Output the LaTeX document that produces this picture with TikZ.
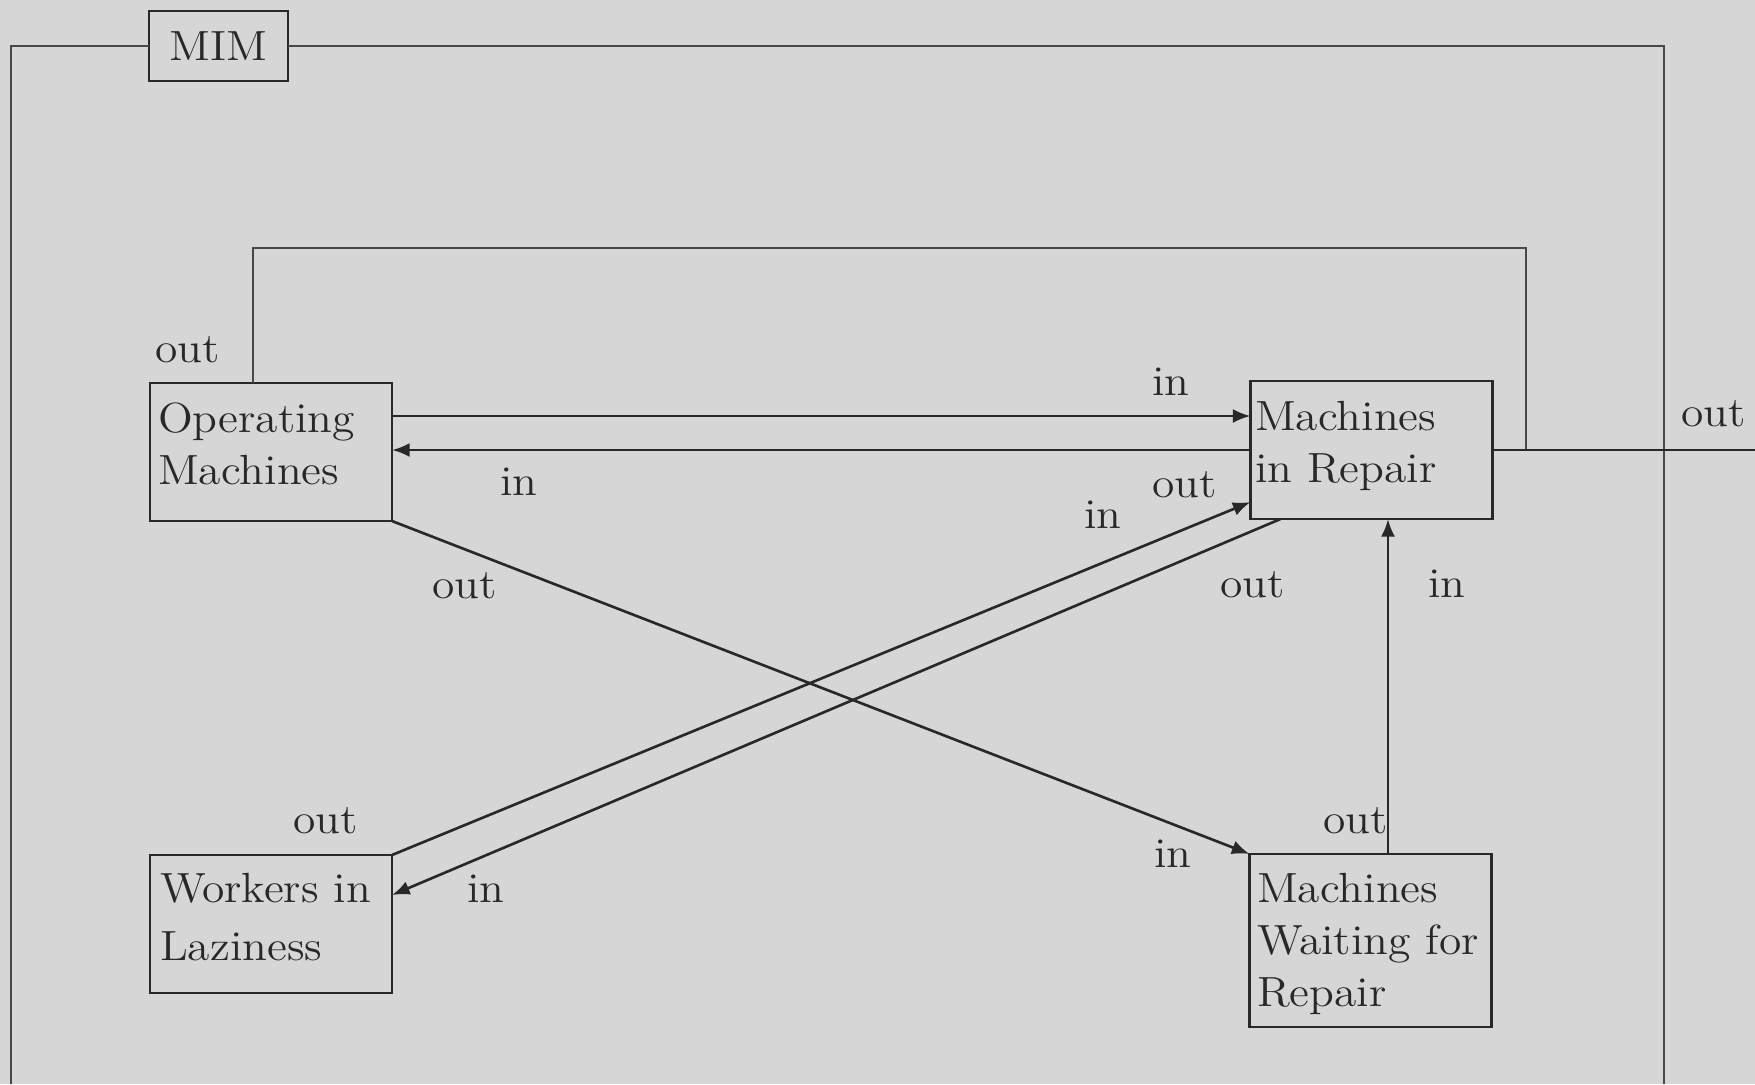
\documentclass[tikz,border=0pt]{standalone}
\usepackage{fontspec}
\setmainfont{Latin Modern Roman}[FakeStretch=1.08]
\usetikzlibrary{arrows.meta,calc}
\definecolor{bg}{RGB}{214,214,214}
\definecolor{ink}{RGB}{40,40,40}
\tikzset{
  box/.style={draw=ink, line width=0.8pt, minimum width=2.42cm, minimum height=1.38cm, inner sep=0pt, outer sep=0pt},
  txt/.style={anchor=base west, inner sep=0pt, outer sep=0pt, text=ink, font=\fontsize{12}{14.8}\selectfont},
  lbl/.style={txt},
  arr/.style={draw=ink, line width=0.75pt, -{Latex[length=5pt,width=4pt]}},
  thinline/.style={draw=ink!85, line width=0.5pt},
  midline/.style={draw=ink, line width=0.6pt},
}
\begin{document}
\begin{tikzpicture}[x=0.01cm,y=-0.01cm]
\fill[bg] (0,0) rectangle (1755,1084);
\useasboundingbox (0,0) rectangle (1755,1084);

% boxes
\node[box, minimum width=1.39cm, minimum height=0.70cm, text=ink, font=\fontsize{12}{14.8}\selectfont] (mim) at (218.5,46) {MIM};
\node[box] (om) at (271,452) {};
\node[box] (mir) at (1371.5,450) {};
\node[box] (wl) at (271,924) {};
\node[box, minimum height=1.73cm] (mwr) at (1370.5,940.5) {};

% box texts
\node[txt] (omt) at (158,432) {\begin{tabular}[t]{@{}l@{}}Operating\\Machines\end{tabular}};
\node[txt] (mirt) at (1255,430) {\begin{tabular}[t]{@{}l@{}}Machines\\in Repair\end{tabular}};
\node[txt] (wlt) at (160,902) {\begin{tabular}[t]{@{}l@{}}Workers in\\[0.06cm]Laziness\end{tabular}};
\node[txt] (mwrt) at (1257,902) {\begin{tabular}[t]{@{}l@{}}Machines\\Waiting for\\Repair\end{tabular}};

% outer frame
\coordinate (fbl) at (11,1084);
\coordinate (fbr) at (1664,1084);
\draw[thinline] (fbl) |- (mim.west);
\draw[thinline] (mim.east) -| (fbr);

% inner loop and outgoing line
\coordinate (lp) at (1526,248);
\draw[thinline] ($(om.north)+(-18,0)$) |- (lp) |- (mir.east);
\coordinate (oe) at (1755,450);
\draw[midline] (mir.east) -- (oe);

% connectors
\coordinate (a1) at ($(om.east)+(0,-36)$);
\draw[arr] (a1) -- (a1 -| mir.west);
\draw[arr] (mir.west) -- (mir.west -| om.east);
\draw[arr] (om.south east) -- (mwr.north west);
\draw[arr] (wl.north east) -- ($(mir.south west)+(0,-17)$);
\draw[arr] ($(mir.south west)+(30,0)$) -- ($(wl.east)+(0,-29)$);
\coordinate (vb) at ($(mwr.north)+(17.5,0)$);
\draw[arr] (vb) -- (vb |- mir.south);

% labels
\node[lbl] (l1) at (155,362) {out};
\node[lbl] (l2) at (1152,395) {in};
\node[lbl] (l3) at (1681,426) {out};
\node[lbl] (l4) at (500,495) {in};
\node[lbl] (l5) at (1152,497) {out};
\node[lbl] (l6) at (1084,528) {in};
\node[lbl] (l7) at (432,598) {out};
\node[lbl] (l8) at (1220,597) {out};
\node[lbl] (l9) at (1428,597) {in};
\node[lbl] (l10) at (293,833) {out};
\node[lbl] (l11) at (1154,867) {in};
\node[lbl] (l12) at (1323,833) {out};
\node[lbl] (l13) at (467,902) {in};
\end{tikzpicture}
\end{document}
